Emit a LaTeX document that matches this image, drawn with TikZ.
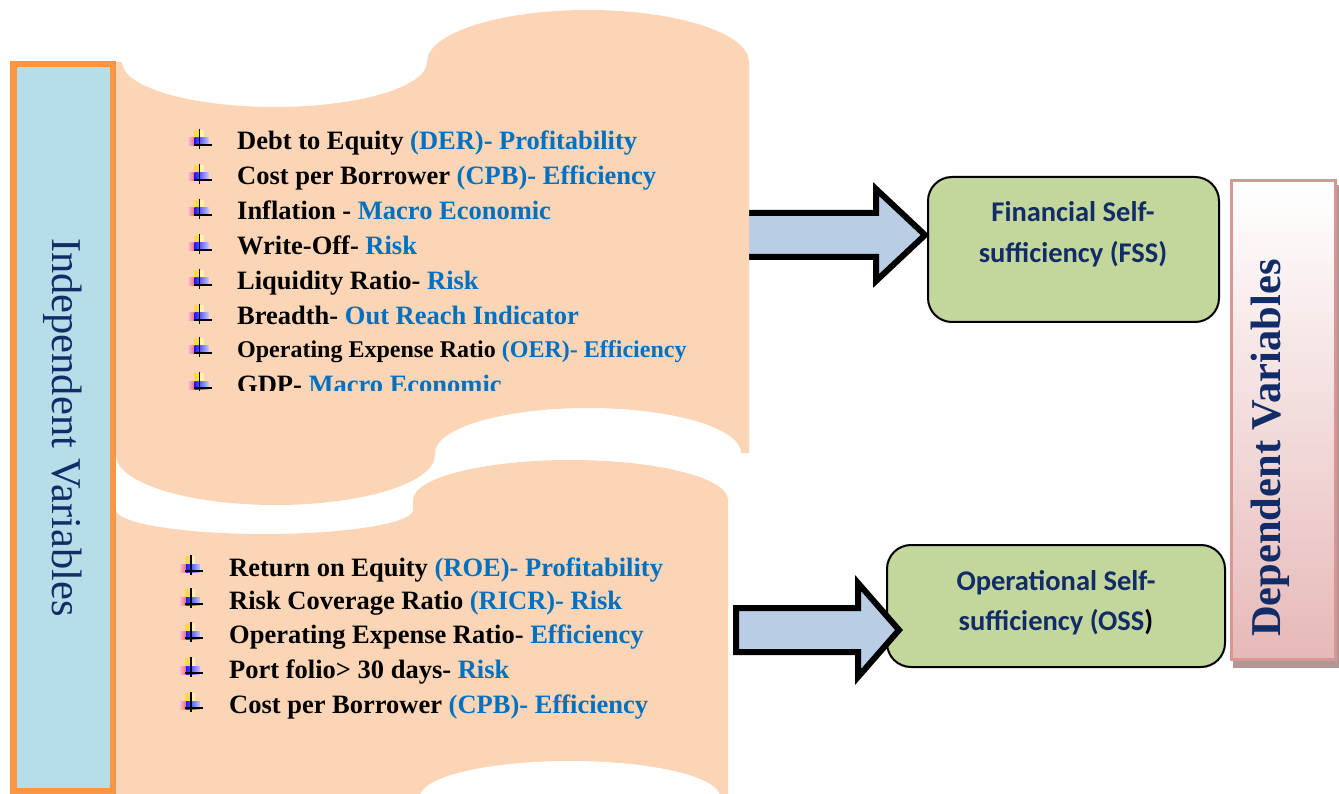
\documentclass[tikz,border=0pt]{standalone}
\usepackage{fontspec}
\setmainfont{Liberation Serif}
\newfontfamily\calib{Carlito}
\usetikzlibrary{calc}
\definecolor{peach}{HTML}{FBD5B5}
\definecolor{lblue}{HTML}{B7DDE8}
\definecolor{orng}{HTML}{F79646}
\definecolor{txtblue}{HTML}{0070C0}
\definecolor{navy}{HTML}{112C66}
\definecolor{boxgreen}{HTML}{C3D69B}
\definecolor{arrowblue}{HTML}{B9CDE5}
\definecolor{pinkborder}{HTML}{D99694}
\definecolor{pinkfill}{HTML}{E6B9B8}
\definecolor{shadowc}{HTML}{B39595}
\definecolor{bulY}{HTML}{FFD94A}
\definecolor{bulLY}{HTML}{FFF2B0}
\definecolor{bulR}{HTML}{F0506A}
\definecolor{bulB}{HTML}{1A1AFF}
\newcommand\mybullet[2]{%
  \begin{scope}[shift={(#1,#2)}]
    \fill[bulY] (-6,-12) rectangle (0,-4);
    \fill[bulLY] (0,-12) rectangle (4,-4);
    \shade[left color=bulR!30, right color=bulR!85] (-12,-4) rectangle (-5,4);
    \shade[left color=bulB, right color=bulB!25] (-5,-4) rectangle (9,4);
    \draw[line width=1.4pt] (0,-13) -- (0,7);
    \draw[line width=1.4pt] (-6,3) -- (12,3);
  \end{scope}}
\newcommand\bl[1]{\textcolor{txtblue}{#1}}
\tikzset{
  item/.style={anchor=base west, inner sep=0pt, font=\fontsize{26.5}{30}\selectfont\bfseries},
  smallitem/.style={anchor=base west, inner sep=0pt, font=\fontsize{24}{28}\selectfont\bfseries},
  blockarrow/.style={fill=arrowblue, draw=black, line width=6pt, line join=miter},
  greenbox/.style={draw=black, line width=2pt, fill=boxgreen, rounded corners=24pt, inner sep=0pt},
  boxtext/.style={anchor=base, inner sep=0pt, text=navy, font=\calib\bfseries\fontsize{28.5}{34}\selectfont},
}
\begin{document}
\begin{tikzpicture}[x=1pt,y=-1pt]
\useasboundingbox (0,0) rectangle (1339,794);
\fill[white] (0,0) rectangle (1339,794);

% result boxes
\node[greenbox, minimum width=291, minimum height=145] (fss) at (1073.5,249.5) {};
\node[greenbox, minimum width=338, minimum height=122] (oss) at (1056,606) {};
\node[boxtext] (fss1) at (1073,222) {Financial Self-};
\node[boxtext] (fss2) at (1073,263) {sufficiency (FSS)};
\node[boxtext] (oss1) at (1056,590) {Operational Self-};
\node[boxtext] (oss2) at (1056,630) {sufficiency (OSS\textcolor{black}{)}};

% block arrows
\coordinate (a1tail) at (745,235);
\coordinate (a2tail) at (736,630);
\draw[blockarrow] (a1tail |- 0,213) -- (876,213) -- (876,189) -- (925,235) -- (876,281) -- (876,257) -- (a1tail |- 0,257) -- cycle;
\draw[blockarrow] (a2tail |- 0,608) -- (858,608) -- (858,583) -- (899,630) -- (858,677) -- (858,652) -- (a2tail |- 0,652) -- cycle;

% scrolls
\fill[peach] (116,62) -- (122,62)
  arc[start angle=180,end angle=360,x radius=152.5pt,y radius=45pt]
  arc[start angle=180,end angle=0,x radius=161pt,y radius=52pt]
  -- (749,453) -- (741,453)
  arc[start angle=0,end angle=180,x radius=153pt,y radius=45pt]
  -- (435,455)
  arc[start angle=0,end angle=-180,x radius=159.5pt,y radius=50pt]
  -- cycle;
\fill[peach] (116,510)
  arc[start angle=180,end angle=360,x radius=148.5pt,y radius=24pt]
  -- (413,500)
  arc[start angle=180,end angle=0,x radius=157.5pt,y radius=40pt]
  -- (728,800) -- (116,800) -- cycle;
\fill[white] (570,797) ellipse[x radius=150pt,y radius=36pt];

% independent variables box
\node[draw=orng, line width=6.5pt, fill=lblue, rotate=-90, minimum width=726.5, minimum height=99.5, inner sep=0pt,
      text=navy, font=\fontsize{42.5}{50}\selectfont] (indep) at (63,427.5) {Independent Variables};

% top list
\begin{scope}
\clip (116,0) rectangle (760,390);
\node[item] (t1) at (237,150) {Debt to Equity \bl{(DER)- Profitability}};
\node[item] (t2) at (237,185) {Cost per Borrower \bl{(CPB)- Efficiency}};
\node[item] (t3) at (237,220) {Inflation - \bl{Macro Economic}};
\node[item] (t4) at (237,255) {Write-Off- \bl{Risk}};
\node[item] (t5) at (237,290) {Liquidity Ratio- \bl{Risk}};
\node[item] (t6) at (237,325) {Breadth- \bl{Out Reach Indicator}};
\node[smallitem] (t7) at (237,358) {Operating Expense Ratio \bl{(OER)- Efficiency}};
\node[item] (t8) at (237,393) {GDP- \bl{Macro Economic}};
\foreach \yy in {150,185,220,255,290,325,358,393} {\mybullet{199.5}{\yy-8}}
\end{scope}

% lower list
\node[item] (b1) at (229,576) {Return on Equity \bl{(ROE)- Profitability}};
\node[item] (b2) at (229,609) {Risk Coverage Ratio \bl{(RICR)- Risk}};
\node[item] (b3) at (229,643) {Operating Expense Ratio- \bl{Efficiency}};
\node[item] (b4) at (229,678) {Port folio> 30 days- \bl{Risk}};
\node[item] (b5) at (229,713) {Cost per Borrower \bl{(CPB)- Efficiency}};
\foreach \yy in {576,609,643,678,713} {\mybullet{191}{\yy-8}}

% dependent variables box
\fill[shadowc] (1233,185) rectangle (1341,668);
\node[draw=pinkborder, line width=3pt, top color=white, bottom color=pinkfill, minimum width=104, minimum height=479, inner sep=0pt] (dep) at (1283.5,420) {};
\node[rotate=90, inner sep=0pt, text=navy, font=\fontsize{42.5}{50}\selectfont\bfseries] (deptext) at (1270,448) {Dependent Variables};
\end{tikzpicture}
\end{document}
